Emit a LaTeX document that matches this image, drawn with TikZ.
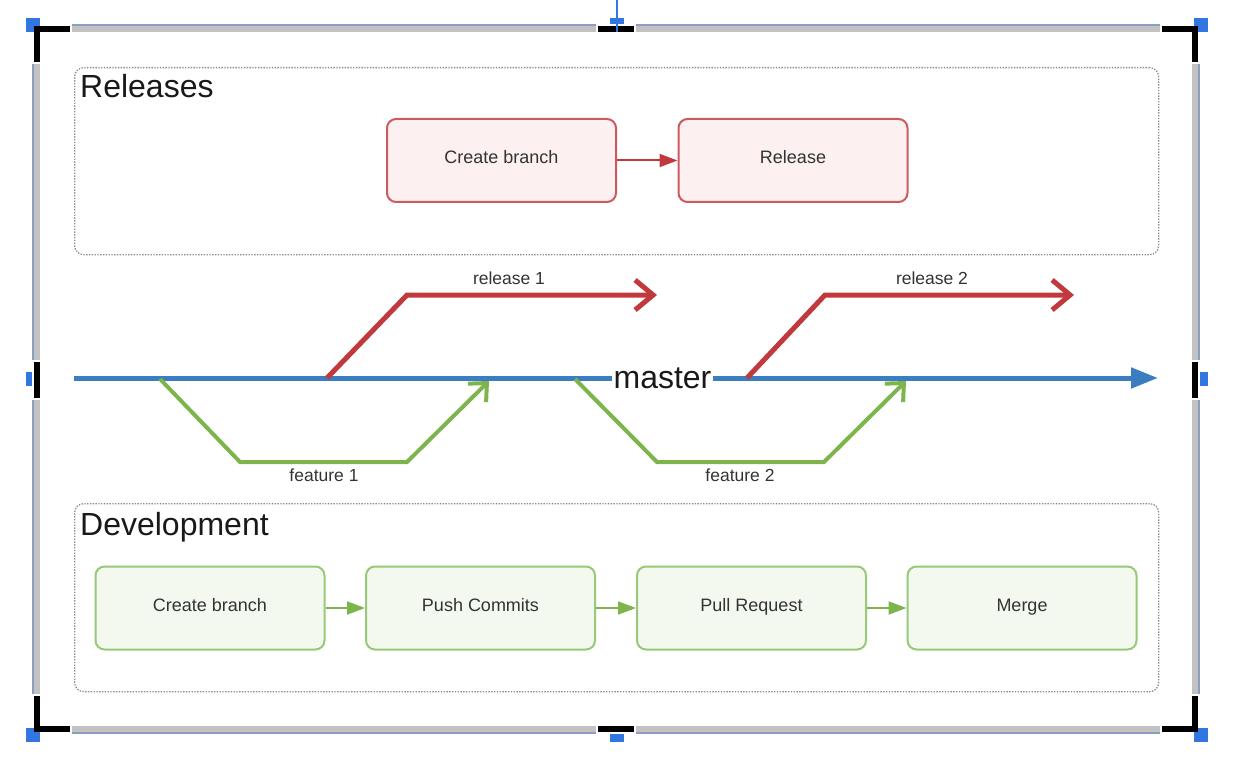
\documentclass[tikz,border=0pt]{standalone}
\usepackage{fontspec}
\setmainfont{Liberation Sans}
\usetikzlibrary{arrows.meta}
\definecolor{mblue}{HTML}{3A7DC0}
\definecolor{rline}{HTML}{C1393D}
\definecolor{gline}{HTML}{7DB54C}
\definecolor{rbord}{HTML}{CC5A5F}
\definecolor{rfill}{HTML}{FCF0F0}
\definecolor{gbord}{HTML}{96C978}
\definecolor{gfill}{HTML}{F4F9EF}
\definecolor{hblue}{HTML}{3276E0}
\definecolor{bargray}{HTML}{C2C2C2}
\definecolor{baredge}{HTML}{8D9DBF}
\definecolor{txt}{HTML}{333333}
\tikzset{
  container/.style={draw=black!45, line width=1.3pt, dash pattern=on 1.4pt off 1.4pt, rounded corners=9pt, inner sep=0pt, anchor=north west},
  ctitle/.style={anchor=base west, inner sep=0pt, font=\fontsize{32}{32}\selectfont, text=black!90},
  boxbase/.style={line width=2pt, rounded corners=9pt, minimum width=229pt, minimum height=83pt, inner sep=0pt, text height=11pt, text depth=4pt, font=\fontsize{18}{18}\selectfont, text=txt},
  redbox/.style={boxbase, draw=rbord, fill=rfill},
  greenbox/.style={boxbase, draw=gbord, fill=gfill},
  redflow/.style={draw=rline, line width=2pt, -{Triangle[length=18pt,width=13pt]}},
  greenflow/.style={draw=gline, line width=2pt, -{Triangle[length=18pt,width=13pt]}},
  relbranch/.style={draw=rline, line width=5pt, -{Straight Barb[length=18pt,width=30pt]}},
  featbranch/.style={draw=gline, line width=4pt, -{Straight Barb[length=14pt,width=26pt]}},
  masterline/.style={draw=mblue, line width=5pt, -{Triangle[length=27pt,width=20pt]}},
  blabel/.style={inner sep=0pt, font=\fontsize{17.5}{17.5}\selectfont, text=txt},
  hbar/.style={fill=bargray},
  hedge/.style={fill=baredge},
  blk/.style={fill=black},
  hdl/.style={fill=hblue}
}
\begin{document}
\begin{tikzpicture}[x=1pt,y=-1pt]
\useasboundingbox (0,0) rectangle (1234,770);
% ---- selection frame ----
\path[hbar] (72,24) rectangle (596,32); \path[hedge] (72,24) rectangle (596,26);
\path[hbar] (636,24) rectangle (1160,32); \path[hedge] (636,24) rectangle (1160,26);
\path[hbar] (72,726) rectangle (596,734); \path[hedge] (72,732) rectangle (596,734);
\path[hbar] (636,726) rectangle (1160,734); \path[hedge] (636,732) rectangle (1160,734);
\path[hbar] (32,64) rectangle (40,360); \path[hedge] (32,64) rectangle (34,360);
\path[hbar] (32,400) rectangle (40,694); \path[hedge] (32,400) rectangle (34,694);
\path[hbar] (1192,64) rectangle (1200,360); \path[hedge] (1198,64) rectangle (1200,360);
\path[hbar] (1192,400) rectangle (1200,694); \path[hedge] (1198,400) rectangle (1200,694);
\path[hdl] (26,18) rectangle (40,32);
\path[hdl] (1194,18) rectangle (1208,32);
\path[hdl] (26,728) rectangle (40,742);
\path[hdl] (1194,728) rectangle (1208,742);
\path[hdl] (610,18) rectangle (624,24);
\path[hdl] (610,734) rectangle (624,742);
\path[hdl] (26,372) rectangle (32,386);
\path[hdl] (1200,372) rectangle (1208,386);
\path[blk] (34,26) rectangle (70,32); \path[blk] (34,26) rectangle (40,62);
\path[blk] (1162,26) rectangle (1198,32); \path[blk] (1192,26) rectangle (1198,62);
\path[blk] (34,696) rectangle (40,732); \path[blk] (34,726) rectangle (70,732);
\path[blk] (1192,696) rectangle (1198,732); \path[blk] (1162,726) rectangle (1198,732);
\path[blk] (598,26) rectangle (634,32);
\path[blk] (598,726) rectangle (634,732);
\path[blk] (34,362) rectangle (40,398);
\path[blk] (1192,362) rectangle (1198,398);
\path[hdl] (616,0) rectangle (618,32);

% ---- containers ----
\node[container, minimum width=1084pt, minimum height=187pt] (relc) at (74,67) {};
\node[ctitle] (reltitle) at (80,98) {Releases};
\node[container, minimum width=1084pt, minimum height=188pt] (devc) at (74,503) {};
\node[ctitle] (devtitle) at (80,535) {Development};

% ---- release boxes ----
\node[redbox] (rcreate) at (501.5,160.5) {Create branch};
\node[redbox] (rrelease) at (793,160.5) {Release};
\draw[redflow] (rcreate.east) -- (rrelease.west);

% ---- development boxes ----
\node[greenbox] (dcreate) at (210,608) {Create branch};
\node[greenbox] (dpush) at (480.5,608) {Push Commits};
\node[greenbox] (dpull) at (751.5,608) {Pull Request};
\node[greenbox] (dmerge) at (1022,608) {Merge};
\draw[greenflow] (dcreate.east) -- (dpush.west);
\draw[greenflow] (dpush.east) -- (dpull.west);
\draw[greenflow] (dpull.east) -- (dmerge.west);

% ---- branches ----
\coordinate (mstart) at (74,378);
\coordinate (mend) at (1158,378);
\draw[masterline] (mstart) -- (mend);

\coordinate (f1s) at (160,379);
\coordinate (f1a) at (240,462);
\coordinate (f1b) at (407,462);
\coordinate (f1e) at (489,381);
\draw[featbranch] (f1s) -- (f1a) -- (f1b) -- (f1e);

\coordinate (f2s) at (575,379);
\coordinate (f2a) at (657,462);
\coordinate (f2b) at (824,462);
\coordinate (f2e) at (906,381);
\draw[featbranch] (f2s) -- (f2a) -- (f2b) -- (f2e);

\coordinate (r1s) at (327,378);
\coordinate (r1a) at (407,295);
\coordinate (r1e) at (657,295);
\draw[relbranch] (r1s) -- (r1a) -- (r1e);

\coordinate (r2s) at (747,378);
\coordinate (r2a) at (825,295);
\coordinate (r2e) at (1074,295);
\draw[relbranch] (r2s) -- (r2a) -- (r2e);

\node[fill=white, inner xsep=1.5pt, inner ysep=0pt, anchor=base, font=\fontsize{32}{32}\selectfont, text=black!90] (master) at (662.5,388) {master};

\node[blabel] (r1lab) at (509,278) {release 1};
\node[blabel] (r2lab) at (932,278) {release 2};
\node[blabel] (f1lab) at (324,475) {feature 1};
\node[blabel] (f2lab) at (740,475) {feature 2};
\end{tikzpicture}
\end{document}
